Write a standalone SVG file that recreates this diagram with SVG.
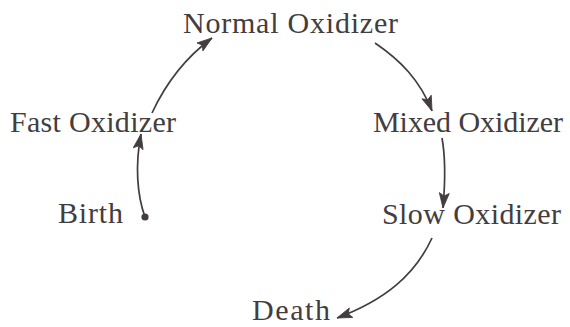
<svg xmlns="http://www.w3.org/2000/svg" width="570" height="327" viewBox="0 0 570 327">
  <defs>
    <style>
      .lbl { font-family: "Liberation Serif", "DejaVu Serif", serif; font-size: 30px; fill: #433d40; }
      .conn { fill: none; stroke: #433d40; stroke-width: 1.7; }
    </style>
    <marker id="ah" markerUnits="userSpaceOnUse" orient="auto" markerWidth="20" markerHeight="14" refX="17" refY="7" viewBox="0 0 20 14">
      <path d="M17,7 L2,2 L5,7 L2,12 Z" fill="#433d40" stroke="#433d40" stroke-width="0.8" stroke-linejoin="round"/>
    </marker>
    <marker id="dot" markerUnits="userSpaceOnUse" markerWidth="10" markerHeight="10" refX="5" refY="5" viewBox="0 0 10 10">
      <circle cx="5" cy="5" r="3.6" fill="#433d40"/>
    </marker>
  </defs>
  <rect width="570" height="327" fill="#ffffff"/>

  <g id="connectors">
    <path class="conn" d="M145,217 C137,195 135,165 141,134" marker-start="url(#dot)" marker-end="url(#ah)"/>
    <path class="conn" d="M152,113 C165,85 185,58 212,38" marker-end="url(#ah)"/>
    <path class="conn" d="M375,43 C400,60 420,80 432,111" marker-end="url(#ah)"/>
    <path class="conn" d="M442,138 C446,160 445,185 443,208" marker-end="url(#ah)"/>
    <path class="conn" d="M432,238 C415,275 385,300 337,318" marker-end="url(#ah)"/>
  </g>

  <g id="normal">
    <text class="lbl" x="183" y="33" textLength="215" lengthAdjust="spacing">Normal Oxidizer</text>
  </g>
  <g id="fast">
    <text class="lbl" x="10" y="132" textLength="166" lengthAdjust="spacing">Fast Oxidizer</text>
  </g>
  <g id="mixed">
    <text class="lbl" x="373" y="132" textLength="190" lengthAdjust="spacing">Mixed Oxidizer</text>
  </g>
  <g id="birth">
    <text class="lbl" x="58" y="223" textLength="65" lengthAdjust="spacing">Birth</text>
  </g>
  <g id="slow">
    <text class="lbl" x="382" y="224" textLength="179" lengthAdjust="spacing">Slow Oxidizer</text>
  </g>
  <g id="death">
    <text class="lbl" x="252" y="320" textLength="78" lengthAdjust="spacing">Death</text>
  </g>
</svg>
